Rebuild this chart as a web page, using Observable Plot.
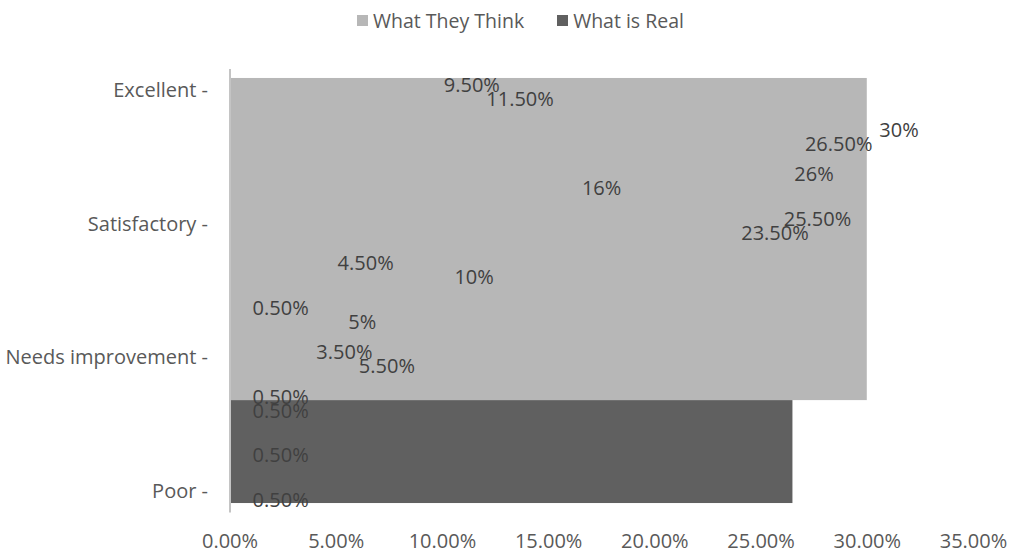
<!DOCTYPE html>
<html><head><meta charset="utf-8">
<script src="https://cdn.jsdelivr.net/npm/d3@7"></script>
<script src="https://cdn.jsdelivr.net/npm/@observablehq/plot@0.6"></script>
<style>
body{margin:0;background:#fff;font-family:"Open Sans",sans-serif;}
#legend{height:40px;display:flex;align-items:center;padding-left:357px;font-size:19.5px;color:#595959;box-sizing:border-box;}
.item{display:flex;align-items:center;margin-right:33px;}
.sw{width:11px;height:11px;margin-right:5px;}
#chart svg{display:block;}
</style></head><body>
<div id="legend"></div><div id="chart"></div>
<script>
// ---- data ----
const categories = ["Excellent", "Satisfactory", "Needs improvement", "Poor"];
const series = ["What They Think", "What is Real"];
const colors = ["#b7b7b7", "#606060"];
// data labels, one per row of the original table (row index = position of the pair)
const thinkValues = [9.5, 30, 26, 25.5, 4.5, 0.5, 3.5, 0.5, null, null];
const realValues  = [11.5, 26.5, 16, 23.5, 10, 5, 5.5, 0.5, 0.5, 0.5];
// the two filled bars as Excel drew them: length and extent in category units
const barValues = [30, 26.5];
const barStart = [-0.09, 2.32];
const barEnd   = [2.32, 3.09];
const xTicks = [0, 5, 10, 15, 20, 25, 30, 35];

// ---- legend ----
const legend = document.getElementById("legend");
series.forEach((s, i) => {
  const it = document.createElement("div"); it.className = "item";
  const sw = document.createElement("div"); sw.className = "sw"; sw.style.background = colors[i];
  const tx = document.createElement("span"); tx.textContent = s;
  it.appendChild(sw); it.appendChild(tx); legend.appendChild(it);
});

// ---- tables ----
const bars = series.map((s, i) => ({series: s, value: barValues[i], y1: barStart[i], y2: barEnd[i]}));
const rowStep = 1 / 3, rowOffset = -0.037;
const thinkLabels = thinkValues.map((v, g) => ({value: v, row: g})).filter(d => d.value != null);
const realLabels = realValues.map((v, g) => ({value: v, row: g})).filter(d => d.value != null);
const fmt = v => Number.isInteger(v) ? v + "%" : v.toFixed(2) + "%";
const FS = 20;

const chart = Plot.plot({
  width: 1012, height: 513,
  marginLeft: 229.5, marginRight: 39, marginTop: 0, marginBottom: 23,
  style: {fontFamily: "Open Sans", fontSize: FS + "px", color: "#595959", background: "#fff"},
  x: {domain: [0, 35], range: [229.5, 973]},
  y: {domain: [0, 3], range: [50, 451]},
  color: {domain: series, range: colors},
  marks: [
    Plot.rect(bars, {x1: () => 0, x2: "value", y1: "y1", y2: "y2", fill: "series"}),
    Plot.ruleX([0], {y1: -0.157, y2: 3.16, stroke: "#c4c4c4", strokeWidth: 2}),
    Plot.text(thinkLabels, {x: "value", y: d => d.row * rowStep + rowOffset, text: d => fmt(d.value),
      textAnchor: "start", dx: 12, fill: "#404040", fontSize: FS}),
    Plot.text(realLabels, {x: "value", y: d => d.row * rowStep + rowOffset, text: d => fmt(d.value),
      textAnchor: "start", dx: 12, dy: 14, fill: "#404040", fontSize: FS}),
    Plot.axisY({ticks: [0, 1, 2, 3], tickFormat: i => categories[i] + " -", tickSize: 0, tickPadding: 22, label: null, fontSize: FS}),
    Plot.axisX({ticks: xTicks, tickFormat: d => d.toFixed(2) + "%", tickSize: 0, tickPadding: 3, label: null, fontSize: FS})
  ]
});
document.getElementById("chart").appendChild(chart);
</script>
</body></html>
